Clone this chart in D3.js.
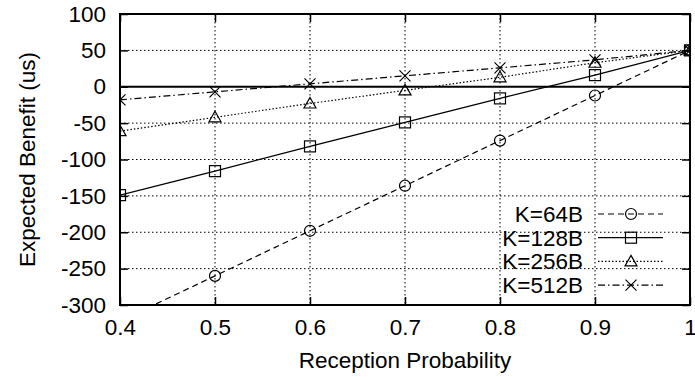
<html>
<head>
<meta charset="utf-8">
<script src="https://cdn.jsdelivr.net/npm/d3@7"></script>
<style>
  body { margin: 0; background: white; }
  text { font-family: "Liberation Sans", Arial, sans-serif; fill: black; }
</style>
</head>
<body>
<svg id="chart" width="695" height="377"></svg>
<script>
  // data
  var probs = [0.4, 0.5, 0.6, 0.7, 0.8, 0.9, 1.0];
  var k64 = [-322, -260, -198, -136, -74, -12, 50];
  var k128 = [-149, -116, -82, -49, -16, 16, 50];
  var k256 = [-61, -42, -23, -5, 13, 33, 50];
  var k512 = [-18, -7, 4, 15, 26, 37, 50];
  var seriesNames = ["K=64B", "K=128B", "K=256B", "K=512B"];
  var xTicks = [0.4, 0.5, 0.6, 0.7, 0.8, 0.9, 1];
  var yTicks = [100, 50, 0, -50, -100, -150, -200, -250, -300];

  var series = [
    {name: seriesNames[0], values: k64, dash: "6,4", mark: "circle"},
    {name: seriesNames[1], values: k128, dash: null, mark: "square"},
    {name: seriesNames[2], values: k256, dash: "1.5,2", mark: "triangle"},
    {name: seriesNames[3], values: k512, dash: "7,3,1.5,3", mark: "cross"}
  ];

  var fontSize = "22.5px";
  var margin = {left: 120, top: 14, right: 5, bottom: 72};
  var width = 695 - margin.left - margin.right;
  var height = 377 - margin.top - margin.bottom;

  var svg = d3.select("#chart");
  var g = svg.append("g").attr("transform", "translate(" + margin.left + "," + margin.top + ")");

  var xs = d3.scaleLinear().domain([0.4, 1]).range([0, width]);
  var ys = d3.scaleLinear().domain([-300, 100]).range([height, 0]);

  // grid
  g.append("g").selectAll("line").data(xTicks.slice(1, -1)).enter().append("line")
    .attr("x1", d => xs(d)).attr("x2", d => xs(d)).attr("y1", 0).attr("y2", height)
    .attr("stroke", "black").attr("stroke-width", 1).attr("stroke-dasharray", "1.5,2.5");
  g.append("g").selectAll("line").data(yTicks.filter(d => d != 100 && d != -300 && d != 0)).enter().append("line")
    .attr("x1", 0).attr("x2", width).attr("y1", d => ys(d)).attr("y2", d => ys(d))
    .attr("stroke", "black").attr("stroke-width", 1).attr("stroke-dasharray", "1.5,2.5");

  // zero axis
  g.append("line").attr("x1", 0).attr("x2", width).attr("y1", ys(0)).attr("y2", ys(0))
    .attr("stroke", "black").attr("stroke-width", 2);

  // axes with inward ticks
  function styleAxis(sel) {
    sel.select(".domain").remove();
    sel.selectAll(".tick line").attr("stroke", "black").attr("stroke-width", 1.5);
    sel.selectAll("text").style("font-size", fontSize).attr("font-family", "Liberation Sans, Arial, sans-serif");
  }
  g.append("g").attr("transform", "translate(0," + height + ")")
    .call(d3.axisBottom(xs).tickValues(xTicks).tickSizeInner(-8).tickSizeOuter(0).tickPadding(14).tickFormat(d => String(d)))
    .call(styleAxis);
  g.append("g")
    .call(d3.axisTop(xs).tickValues(xTicks).tickSizeInner(-8).tickSizeOuter(0).tickFormat(""))
    .call(styleAxis);
  g.append("g")
    .call(d3.axisLeft(ys).tickValues(yTicks).tickSizeInner(-8).tickSizeOuter(0).tickPadding(14).tickFormat(d => String(d)))
    .call(styleAxis);
  g.append("g").attr("transform", "translate(" + width + ",0)")
    .call(d3.axisRight(ys).tickValues(yTicks).tickSizeInner(-8).tickSizeOuter(0).tickFormat(""))
    .call(styleAxis);

  // clip for lines
  svg.append("clipPath").attr("id", "clip").append("rect")
    .attr("x", 0).attr("y", 0).attr("width", width).attr("height", height);

  var line = d3.line().x((d, i) => xs(probs[i])).y(d => ys(d));

  function drawMark(sel, type) {
    if (type == "circle") {
      sel.append("circle").attr("r", 5.5).attr("fill", "none").attr("stroke", "black").attr("stroke-width", 1.2);
    } else if (type == "square") {
      sel.append("rect").attr("x", -5.5).attr("y", -5.5).attr("width", 11).attr("height", 11)
        .attr("fill", "none").attr("stroke", "black").attr("stroke-width", 1.2);
    } else if (type == "triangle") {
      sel.append("path").attr("d", "M0,-6 L6,4.5 L-6,4.5 Z").attr("fill", "none").attr("stroke", "black").attr("stroke-width", 1.2);
    } else {
      sel.append("path").attr("d", "M-5.5,-5.5 L5.5,5.5 M-5.5,5.5 L5.5,-5.5").attr("fill", "none").attr("stroke", "black").attr("stroke-width", 1.2);
    }
  }

  var plot = g.append("g").attr("clip-path", "url(#clip)");
  series.forEach(function(s) {
    plot.append("path").datum(s.values).attr("d", line)
      .attr("fill", "none").attr("stroke", "black").attr("stroke-width", 1.2)
      .attr("stroke-dasharray", s.dash);
    s.values.forEach(function(v, i) {
      if (v < -300) return;
      var m = plot.append("g").attr("transform", "translate(" + xs(probs[i]) + "," + ys(v) + ")");
      drawMark(m, s.mark);
    });
  });

  // frame
  g.append("rect").attr("x", 0).attr("y", 0).attr("width", width).attr("height", height)
    .attr("fill", "none").attr("stroke", "black").attr("stroke-width", 2);

  // legend
  var legend = g.append("g").attr("transform", "translate(" + (583 - margin.left) + "," + (214 - margin.top) + ")");
  series.forEach(function(s, i) {
    var row = legend.append("g").attr("transform", "translate(0," + (i * 23.7) + ")");
    row.append("text").attr("x", 0).attr("y", 8).attr("text-anchor", "end")
      .style("font-size", fontSize).text(s.name);
    row.append("line").attr("x1", 15).attr("x2", 80).attr("y1", 0).attr("y2", 0)
      .attr("stroke", "black").attr("stroke-width", 1.2).attr("stroke-dasharray", s.dash);
    var m = row.append("g").attr("transform", "translate(48,0)");
    drawMark(m, s.mark);
  });

  // axis titles
  svg.append("text").attr("x", margin.left + width / 2).attr("y", 368)
    .attr("text-anchor", "middle").style("font-size", fontSize).text("Reception Probability");
  svg.append("text").attr("transform", "translate(35," + (margin.top + height / 2) + ") rotate(-90)")
    .attr("text-anchor", "middle").style("font-size", fontSize).text("Expected Benefit (us)");
</script>
</body>
</html>
